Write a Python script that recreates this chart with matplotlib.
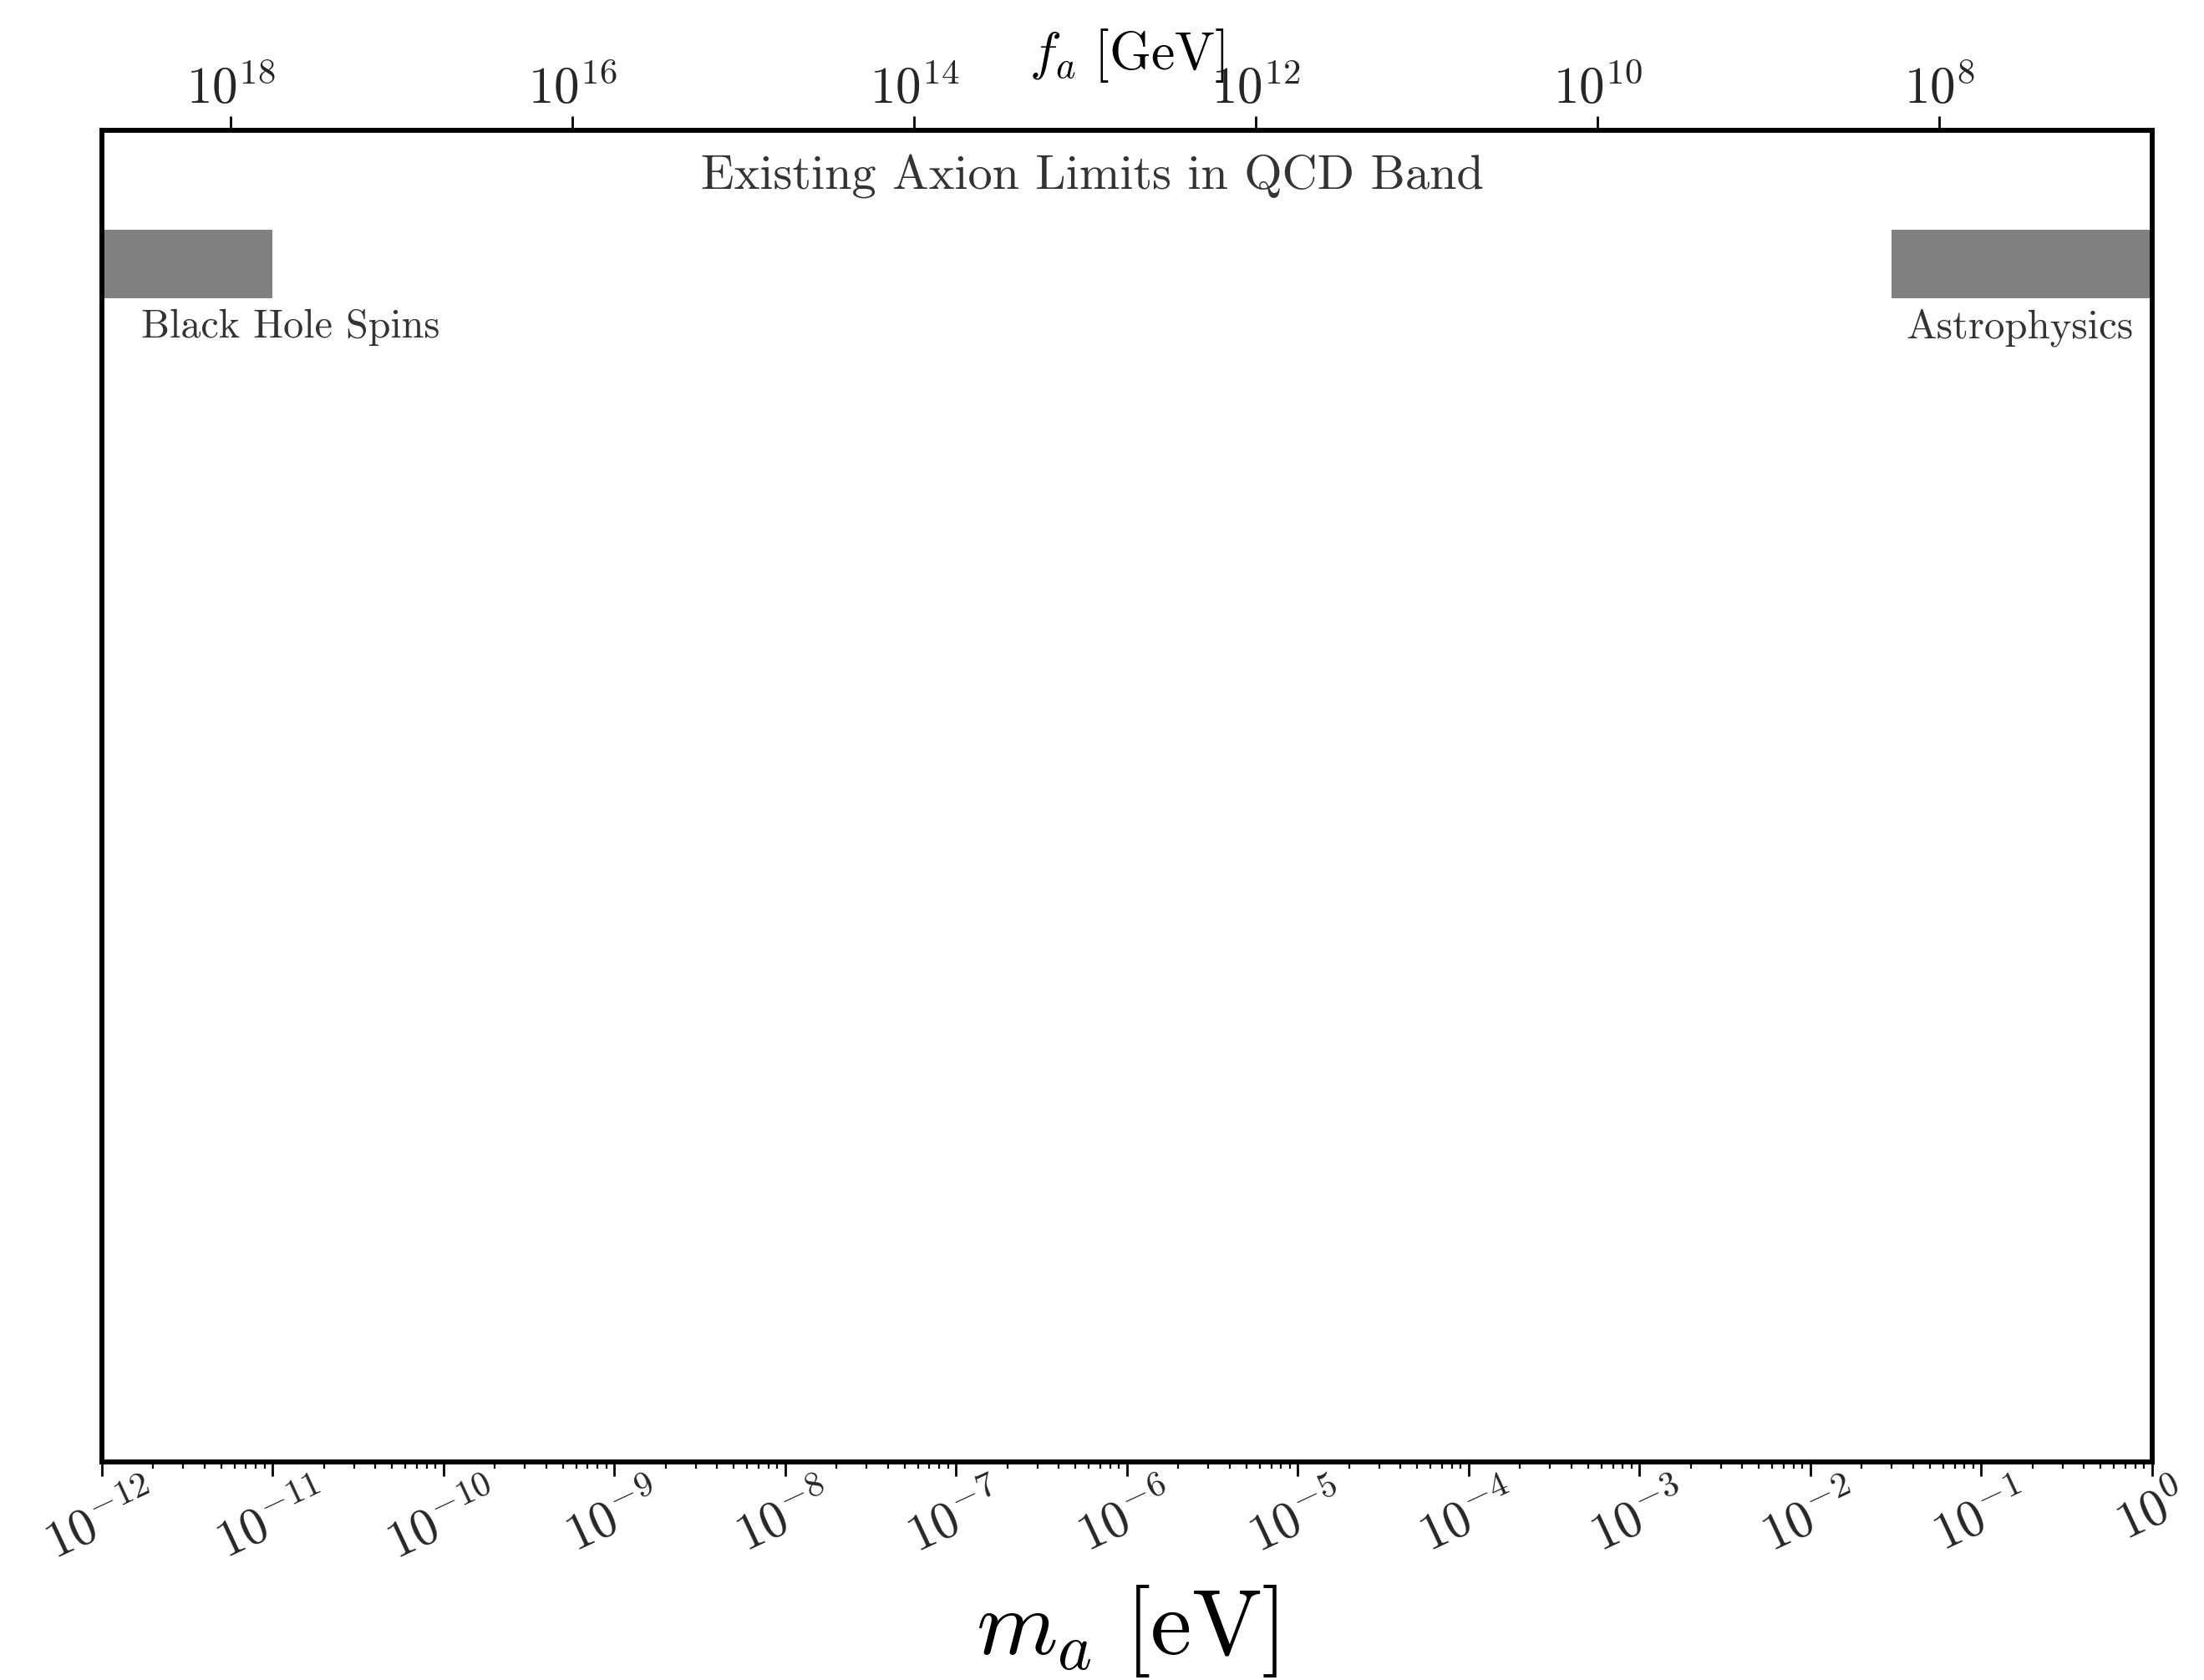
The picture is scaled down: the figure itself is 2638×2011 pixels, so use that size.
import numpy as np
import matplotlib
matplotlib.use("Agg")
import matplotlib.pyplot as plt
from matplotlib.ticker import LogLocator, NullLocator

plt.rcParams['font.family'] = 'serif'
plt.rcParams['font.serif'] = ['cmr10']
plt.rcParams['mathtext.fontset'] = 'cm'
plt.rcParams['axes.formatter.use_mathtext'] = True
plt.rcParams['axes.unicode_minus'] = False

# axion mass range [eV] and f_a conversion (f_a = 5.7e6 GeV * eV / m_a)
m_min, m_max = 1e-12, 1e0
fa_coeff = 5.7e6
fa_exps = [18, 16, 14, 12, 10, 8]

# existing limits: (name, m_low, m_high)
limit_names = ['Black Hole Spins', 'Astrophysics']
limit_lo = [1e-12, 3e-2]
limit_hi = [1e-11, 1e0]

fig = plt.figure(figsize=(13.19, 10.055), dpi=200)
ax = fig.add_axes([0.0461, 0.130, 0.9303, 0.7925])

band_y0, band_y1 = 0.8735, 0.925
for name, lo, hi in zip(limit_names, limit_lo, limit_hi):
    ax.fill_between([lo, hi], band_y0, band_y1, color='gray', lw=0)

ax.text(1.7e-12, 0.866, 'Black Hole Spins', fontsize=17.3, color='0.2', va='top', ha='left')
ax.text(0.78, 0.866, 'Astrophysics', fontsize=17.6, color='0.2', va='top', ha='right')
ax.text(6.3e-7, 0.965, 'Existing Axion Limits in QCD Band', fontsize=21,
        color='0.2', va='center', ha='center')

ax.set_xscale('log')
ax.set_xlim(m_min, m_max)
ax.set_ylim(0, 1)
ax.set_yticks([])
ax.xaxis.set_major_locator(LogLocator(base=10, numticks=20))
ax.xaxis.set_minor_locator(LogLocator(base=10, subs=np.arange(2, 10), numticks=200))
ax.tick_params(axis='x', which='major', direction='out', length=6, width=1,
               labelsize=22, labelcolor='0.15', pad=0)
ax.tick_params(axis='x', which='minor', direction='out', length=3, width=0.8)
for lab in ax.get_xticklabels():
    lab.set_rotation(25)
    lab.set_ha('center')
ax.set_xlabel(r'$m_a\ [\mathrm{eV}]$', fontsize=40, labelpad=6)

for sp in ax.spines.values():
    sp.set_linewidth(2)

# top axis in f_a, placed at the matching masses
ax2 = ax.twiny()
ax2.set_xscale('log')
ax2.set_xlim(ax.get_xlim())
ax2.set_xticks([fa_coeff / 10.0**e for e in fa_exps])
ax2.set_xticklabels([r'$10^{%d}$' % e for e in fa_exps])
ax2.xaxis.set_minor_locator(NullLocator())
ax2.tick_params(axis='x', direction='out', length=6, width=1, labelsize=22,
                labelcolor='0.15', pad=1)
ax2.set_xlabel(r'$f_a\ [\mathrm{GeV}]$', fontsize=23)
ax2.xaxis.set_label_coords(0.5, 1.046)
for sp in ax2.spines.values():
    sp.set_linewidth(2)

fig.savefig('out.png', dpi=200)
